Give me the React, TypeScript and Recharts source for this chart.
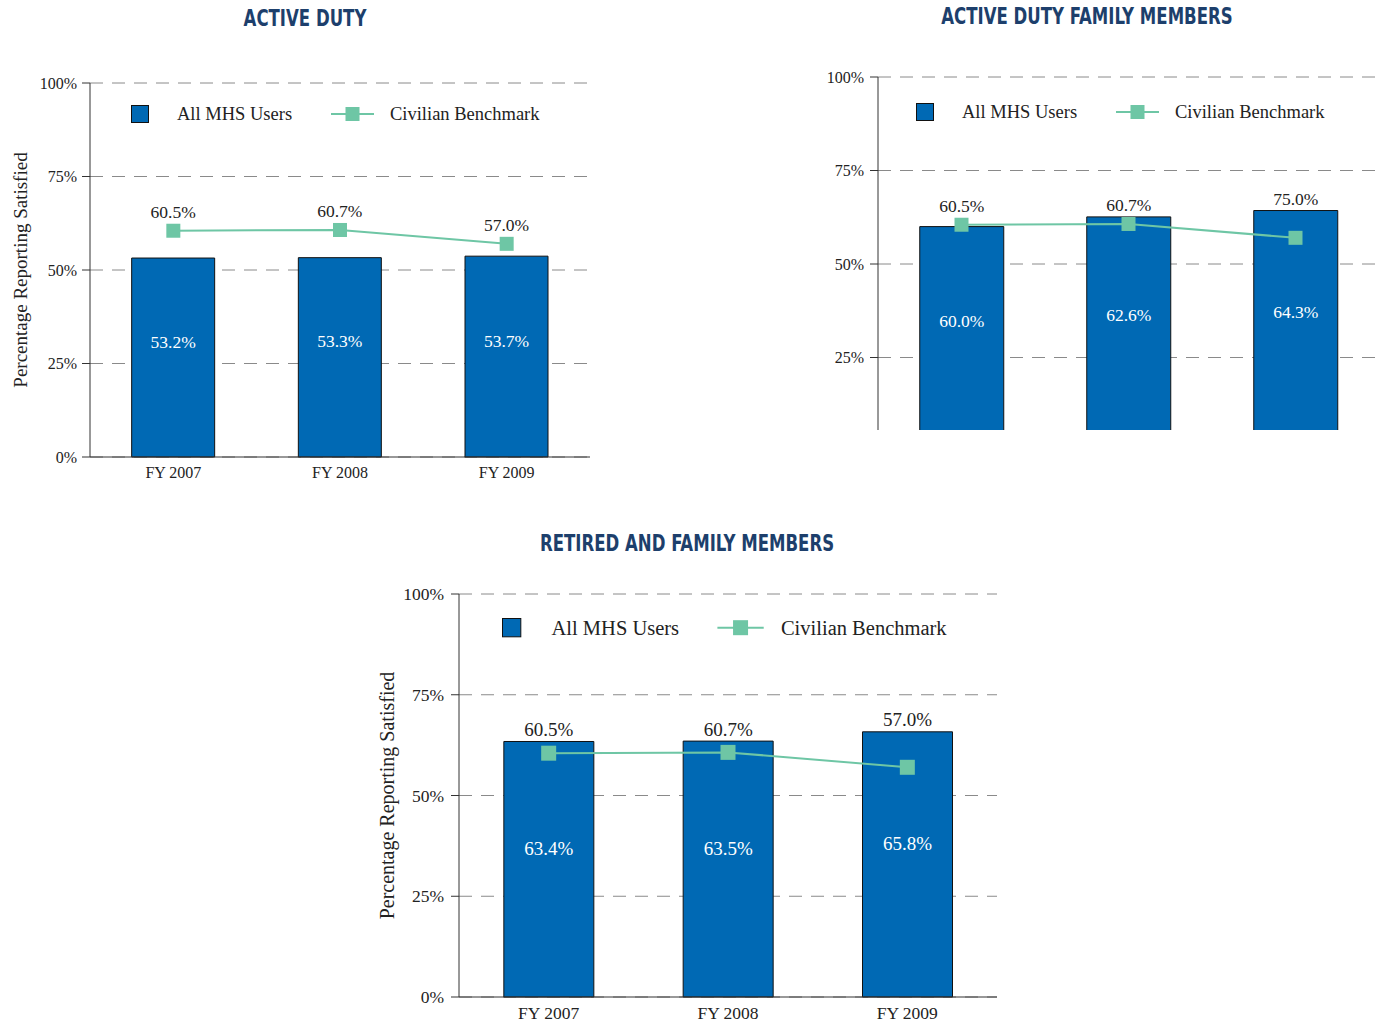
import { ComposedChart, Bar, Line, XAxis, YAxis, CartesianGrid, Legend, LabelList } from "recharts"

// chart values
const years = ["FY 2007", "FY 2008", "FY 2009"]
const yTicks = [0, 25, 50, 75, 100]
// the family panel is cut off just above its baseline, so 0% never shows
const familyYTicks = [25, 50, 75, 100]

const activeDutyMhs = [53.2, 53.3, 53.7]
const activeDutyCivilian = [60.5, 60.7, 57.0]
const activeDutyTopLabels = ["60.5%", "60.7%", "57.0%"]

const familyMhs = [60.0, 62.6, 64.3]
const familyCivilian = [60.5, 60.7, 57.0]
const familyTopLabels = ["60.5%", "60.7%", "75.0%"]

const retiredMhs = [63.4, 63.5, 65.8]
const retiredCivilian = [60.5, 60.7, 57.0]
const retiredTopLabels = ["60.5%", "60.7%", "57.0%"]

const BAR_BLUE = "#0069b4"
const MINT = "#6ec6a5"
const NAVY = "#1d3f6c"
const SERIF = '"Liberation Serif", "Times New Roman", serif'
const NARROW = '"Liberation Sans Narrow", "DejaVu Sans Condensed", "Arial Narrow", sans-serif'

interface PanelProps {
  title: string
  titleX: number
  titleY: number
  mhs: number[]
  civilian: number[]
  topLabels: string[]
  ticks: number[]
  left: number
  top: number
  width: number
  height: number // visible (cropped) height
  chartHeight: number
  margin: { top: number; right: number; left: number; bottom: number }
  yAxisWidth: number
  xAxisHeight: number
  tickMargin: number
  fontSize: number
  valueFont: number
  legendFont: number
  legendLeft: number
  legendTop: number
  legendScale: number
  marker: number
  yLabelX?: number
  yLabelFont?: number
  hideXTicks?: boolean
}

function Panel(p: PanelProps) {
  const data = years.map((year, i) => ({
    year,
    mhs: p.mhs[i],
    civilian: p.civilian[i],
  }))

  const SquareDot = (d: any) => {
    if (d.cx == null || d.cy == null) return null
    return (
      <rect key={`dot-${d.index}`} x={d.cx - p.marker / 2} y={d.cy - p.marker / 2} width={p.marker} height={p.marker} fill={MINT} />
    )
  }

  // label above whichever is higher: the bar top or the benchmark marker
  const TopLabel = (d: any) => {
    const { x, y, width, height, index } = d
    const bottom = y + height
    const lineY = bottom - (p.civilian[index] / p.mhs[index]) * height
    const top = Math.min(y, lineY - p.marker / 2)
    return (
      <text x={x + width / 2} y={top - 12} textAnchor="middle" dominantBaseline="central" fontFamily={SERIF} fontSize={p.valueFont} fill="#222">
        {p.topLabels[index]}
      </text>
    )
  }

  const InnerLabel = (d: any) => {
    const { x, y, width, height, index } = d
    return (
      <text x={x + width / 2} y={y + height * 0.42} textAnchor="middle" dominantBaseline="central" fontFamily={SERIF} fontSize={p.valueFont} fill="#fff">
        {p.mhs[index].toFixed(1)}%
      </text>
    )
  }

  const s = p.legendScale
  const LegendContent = (lp: any) => {
    const items = lp.payload || []
    const barItem = items.find((it: any) => it.dataKey === "mhs")
    const lineItem = items.find((it: any) => it.dataKey === "civilian")
    const cy = 9 * s
    return (
      <svg width={480 * s} height={20 * s} style={{ overflow: "visible" }}>
        <rect x={0.5} y={0.5} width={17 * s} height={17 * s} fill={BAR_BLUE} stroke="#111" strokeWidth={1} />
        <text x={46 * s} y={cy} dominantBaseline="central" fontFamily={SERIF} fontSize={p.legendFont} fill="#222">
          {barItem ? barItem.value : "All MHS Users"}
        </text>
        <line x1={200 * s} x2={243 * s} y1={cy} y2={cy} stroke={MINT} strokeWidth={2} />
        <rect x={221.5 * s - p.marker / 2} y={cy - p.marker / 2} width={p.marker} height={p.marker} fill={MINT} />
        <text x={259 * s} y={cy} dominantBaseline="central" fontFamily={SERIF} fontSize={p.legendFont} fill="#222">
          {lineItem ? lineItem.value : "Civilian Benchmark"}
        </text>
      </svg>
    )
  }

  const tickStyle = { fontFamily: SERIF, fontSize: p.fontSize, fill: "#222" }

  return (
    <>
      <div
        style={{
          position: "absolute",
          left: p.titleX - 300,
          top: p.titleY - 14,
          width: 600,
          textAlign: "center",
          fontFamily: NARROW,
          fontWeight: 700,
          fontSize: 23,
          lineHeight: "28px",
          color: NAVY,
          transform: "scaleX(0.8)",
        }}
      >
        {p.title}
      </div>
      <div style={{ position: "absolute", left: p.left, top: p.top, width: p.width, height: p.height, overflow: "hidden" }}>
        <ComposedChart width={p.width} height={p.chartHeight} data={data} margin={p.margin} barCategoryGap="25%">
          <CartesianGrid vertical={false} stroke="#8a8a8a" strokeDasharray="13 9" />
          <XAxis
            dataKey="year"
            height={p.xAxisHeight}
            tickLine={false}
            axisLine={{ stroke: "#333" }}
            tick={p.hideXTicks ? false : tickStyle}
            tickMargin={4}
          />
          <YAxis
            domain={[0, 100]}
            ticks={p.ticks}
            width={p.yAxisWidth}
            tickSize={8}
            tickMargin={p.tickMargin}
            tickLine={{ stroke: "#333" }}
            axisLine={{ stroke: "#333" }}
            tick={tickStyle}
            tickFormatter={(v) => `${v}%`}
            label={
              p.yLabelX !== undefined
                ? (lp: any) => {
                    const vb = lp.viewBox
                    const cx = vb.x + (p.yLabelX as number)
                    const cy = vb.y + vb.height / 2
                    return (
                      <text x={cx} y={cy} transform={`rotate(-90 ${cx} ${cy})`} textAnchor="middle" dominantBaseline="central" fontFamily={SERIF} fontSize={p.yLabelFont} fill="#222">
                        Percentage Reporting Satisfied
                      </text>
                    )
                  }
                : undefined
            }
          />
          <Legend
            layout="horizontal"
            verticalAlign="middle"
            align="center"
            wrapperStyle={{ left: p.legendLeft, top: p.legendTop, width: "auto" }}
            content={LegendContent}
          />
          <Bar dataKey="mhs" name="All MHS Users" fill={BAR_BLUE} stroke="#111" strokeWidth={1} isAnimationActive={false}>
            <LabelList dataKey="mhs" content={InnerLabel} />
            <LabelList dataKey="mhs" content={TopLabel} />
          </Bar>
          <Line
            type="linear"
            dataKey="civilian"
            name="Civilian Benchmark"
            stroke={MINT}
            strokeWidth={2}
            dot={SquareDot}
            activeDot={false}
            isAnimationActive={false}
          />
        </ComposedChart>
      </div>
    </>
  )
}

export default function App() {
  return (
    <div style={{ position: "absolute", left: 0, top: 0, width: 1379, height: 1028, background: "#fff", overflow: "hidden" }}>
      <Panel
        title="ACTIVE DUTY"
        titleX={305}
        titleY={18}
        mhs={activeDutyMhs}
        civilian={activeDutyCivilian}
        topLabels={activeDutyTopLabels}
        ticks={yTicks}
        left={0}
        top={60}
        width={600}
        height={440}
        chartHeight={440}
        margin={{ top: 23, right: 10, left: 0, bottom: 0 }}
        yAxisWidth={90}
        xAxisHeight={43}
        tickMargin={5}
        fontSize={16}
        valueFont={17.5}
        legendFont={18.5}
        legendLeft={131}
        legendTop={45}
        legendScale={1}
        marker={14}
        yLabelX={20}
        yLabelFont={19}
      />
      <Panel
        title="ACTIVE DUTY FAMILY MEMBERS"
        titleX={1087}
        titleY={16}
        mhs={familyMhs}
        civilian={familyCivilian}
        topLabels={familyTopLabels}
        ticks={familyYTicks}
        left={790}
        top={50}
        width={589}
        height={380}
        chartHeight={440}
        margin={{ top: 27, right: 0, left: 0, bottom: 0 }}
        yAxisWidth={88}
        xAxisHeight={39}
        tickMargin={6}
        fontSize={16}
        valueFont={17.5}
        legendFont={18.5}
        legendLeft={126}
        legendTop={53}
        legendScale={1}
        marker={14}
        hideXTicks
      />
      <Panel
        title="RETIRED AND FAMILY MEMBERS"
        titleX={687}
        titleY={543}
        mhs={retiredMhs}
        civilian={retiredCivilian}
        topLabels={retiredTopLabels}
        ticks={yTicks}
        left={360}
        top={570}
        width={640}
        height={458}
        chartHeight={458}
        margin={{ top: 24, right: 3, left: 0, bottom: 0 }}
        yAxisWidth={99}
        xAxisHeight={31}
        tickMargin={7}
        fontSize={17.5}
        valueFont={19}
        legendFont={20.5}
        legendLeft={142}
        legendTop={48}
        legendScale={1.077}
        marker={15}
        yLabelX={27}
        yLabelFont={20}
      />
    </div>
  )
}
